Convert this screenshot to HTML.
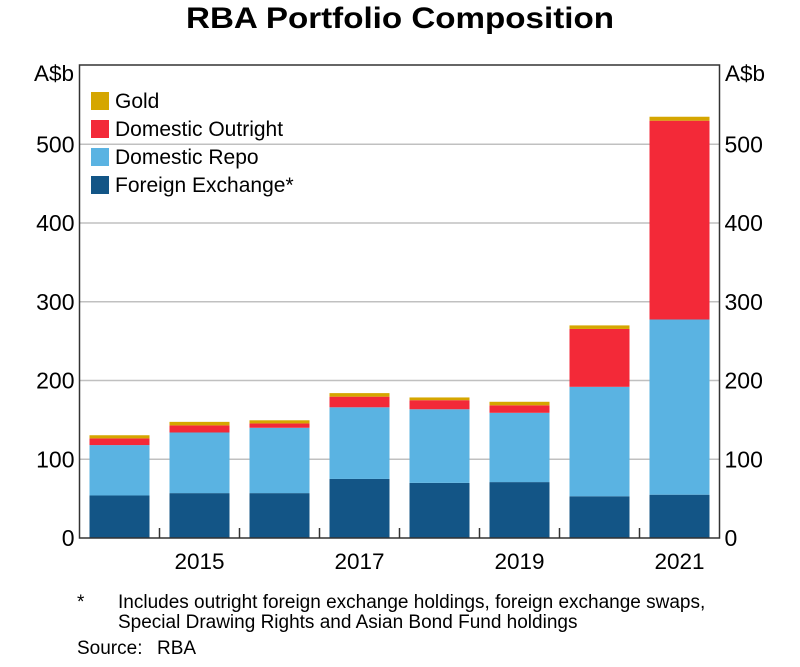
<!DOCTYPE html>
<html><head><meta charset="utf-8">
<style>
body{margin:0;background:#fff;}
svg text{font-family:"Liberation Sans",Arial,sans-serif;fill:#000;}
</style></head>
<body>
<svg id="chart" width="800" height="662" viewBox="0 0 800 662" xmlns="http://www.w3.org/2000/svg">
<text x="186" y="28" font-size="30" font-weight="bold" textLength="428" lengthAdjust="spacingAndGlyphs">RBA Portfolio Composition</text>
<g id="grid"></g>
<g id="bars"></g>
<rect x="79.5" y="65" width="640" height="473" fill="none" stroke="#333" stroke-width="1.5"/>
<g id="axes"></g>
<text x="74" y="81" text-anchor="end" font-size="22.5">A$b</text>
<text x="725" y="81" font-size="22.5">A$b</text>
<g>
<rect x="91" y="92" width="18" height="18" fill="#d5a600"/>
<text x="115" y="108" font-size="21">Gold</text>
<rect x="91" y="120" width="18" height="18" fill="#f32938"/>
<text x="115" y="136" font-size="21">Domestic Outright</text>
<rect x="91" y="148" width="18" height="18" fill="#5ab3e2"/>
<text x="115" y="164" font-size="21">Domestic Repo</text>
<rect x="91" y="176" width="18" height="18" fill="#135586"/>
<text x="115" y="192" font-size="21">Foreign Exchange*</text>
</g>
<text x="77" y="608" font-size="19">*</text>
<text x="118" y="608" font-size="19">Includes outright foreign exchange holdings, foreign exchange swaps,</text>
<text x="118" y="628" font-size="19">Special Drawing Rights and Asian Bond Fund holdings</text>
<text x="77" y="654" font-size="19">Source:</text>
<text x="157" y="654" font-size="19">RBA</text>
</svg>
<script>
const years = ["2014","2015","2016","2017","2018","2019","2020","2021"];
const xLabels = ["","2015","","2017","","2019","","2021"];
const fx = [54,57,57,75,70,71,53,55];
const repo = [64,77,83,91,93.5,88,139,222.5];
const outright = [8.5,9,5.5,13.5,11.5,9.5,73.5,252.5];
const gold = [4,4.5,4,4.5,3.5,4.5,4.5,5];
const yTicks = [0,100,200,300,400,500];

const NS="http://www.w3.org/2000/svg";
const x0=79.5, plotW=640, y0=538, yTop=65;
const yScale=v=>y0 - v*(y0-144.3)/500;
const band=plotW/years.length;
const xScale=i=>x0+band*i;
function mk(tag,attrs,parent){const e=document.createElementNS(NS,tag);for(const k in attrs)e.setAttribute(k,attrs[k]);parent.appendChild(e);return e;}
const grid=document.getElementById('grid'), bars=document.getElementById('bars'), axes=document.getElementById('axes');
yTicks.forEach(t=>{
  const y=yScale(t);
  if(t>0){const g=mk('line',{x1:x0,x2:x0+plotW,y1:y,y2:y,stroke:'#c0c0c0','stroke-width':1.5},grid);
    
    }
  const l=mk('text',{x:x0-5,y:y+8,'text-anchor':'end','font-size':23},axes);l.textContent=t;
  
  
  const r=mk('text',{x:x0+plotW+5,y:y+8,'font-size':23},axes);r.textContent=t;
  
  
});
const series=[[fx,'#135586','fx'],[repo,'#5ab3e2','repo'],[outright,'#f32938','outright'],[gold,'#d5a600','gold']];
years.forEach((yr,i)=>{
  let base=0;
  const bx=xScale(i)+(band-60)/2;
  series.forEach(([arr,col,nm])=>{
    const v=arr[i];
    const r=mk('rect',{x:bx,width:60,y:yScale(base+v),height:yScale(base)-yScale(base+v),fill:col},bars);
    
    
    base+=v;
  });
  if(i>0){const tk=mk('line',{x1:xScale(i),x2:xScale(i),y1:y0,y2:y0-10,stroke:'#333','stroke-width':1.5},axes);
    
    }
  if(xLabels[i]){const t=mk('text',{x:xScale(i)+band/2,y:569,'text-anchor':'middle','font-size':22.5},axes);t.textContent=xLabels[i];
    
    }
});
</script>
</body></html>
